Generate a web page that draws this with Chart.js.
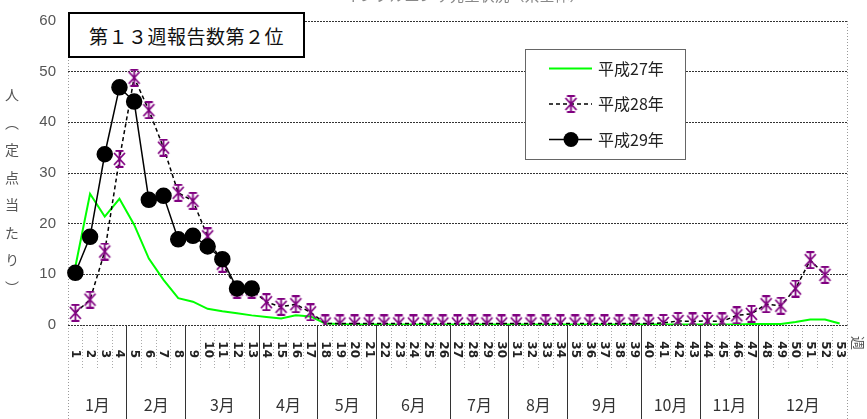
<!DOCTYPE html>
<html>
<head>
<meta charset="utf-8">
<script src="https://cdn.jsdelivr.net/npm/chart.js@4"></script>
<style>
  html, body { margin: 0; padding: 0; background: #fff; }
  #wrap { position: relative; width: 867px; height: 419px; overflow: hidden; font-family: "Noto Sans CJK JP", sans-serif; }
  #chart { position: absolute; left: 0; top: 0; }
  .note {
    position: absolute; left: 68px; top: 12px; width: 237px; height: 46px; box-sizing: border-box;
    border: 2px solid #000; background: #fff; color: #111; font-size: 19px;
    display: flex; align-items: center; justify-content: center; letter-spacing: 0.5px;
  }
  .ytitle {
    position: absolute; left: 4px; top: 88px; writing-mode: vertical-rl;
    font-size: 14px; letter-spacing: 13.5px; color: #555; line-height: 16px;
  }
  .xtitle { position: absolute; left: 852px; top: 333px; font-size: 14px; color: #555; transform: rotate(90deg); }
  .toptitle { position: absolute; left: 345px; top: -16px; font-size: 15px; color: #888; }
</style>
</head>
<body>
<div id="wrap">
  <canvas id="chart" width="867" height="419"></canvas>
  <div class="toptitle">インフルエンザ発生状況（県全体）</div>
  <div class="note">第１３週報告数第２位</div>
  <div class="ytitle">人（定点当たり）</div>
  <div class="xtitle">週</div>
</div>
<script>
var weeks = ['1','2','3','4','5','6','7','8','9','10','11','12','13','14','15','16','17','18','19','20',
  '21','22','23','24','25','26','27','28','29','30','31','32','33','34','35','36','37','38','39','40',
  '41','42','43','44','45','46','47','48','49','50','51','52','53'];

var months = ['1月','2月','3月','4月','5月','6月','7月','8月','9月','10月','11月','12月'];
var monthLastWeek = [4, 8, 13, 17, 21, 26, 30, 34, 39, 43, 47, 53];

var yTicks = [0, 10, 20, 30, 40, 50, 60];

var h27 = [11.5, 25.9, 21.4, 24.9, 19.8, 13.1, 8.9, 5.3, 4.6, 3.2, 2.7, 2.3, 1.9, 1.6, 1.3, 1.9, 1.7, 0.3, 0.2, 0.1,
  0.1, 0.1, 0.1, 0.1, 0.1, 0.1, 0.1, 0.1, 0.1, 0.1, 0.1, 0.1, 0.1, 0.1, 0.1, 0.1, 0.1, 0.1, 0.1, 0.1,
  0.1, 0.1, 0.1, 0.1, 0.1, 0.1, 0.2, 0.2, 0.2, 0.6, 1.1, 1.1, 0.3];

var h28 = [2.4, 5.0, 14.5, 32.8, 48.8, 42.4, 35.0, 26.1, 24.5, 17.5, 12.1, 7.0, 7.0, 4.5, 3.6, 4.1, 2.5, 0.3, 0.3, 0.3,
  0.3, 0.3, 0.3, 0.3, 0.3, 0.3, 0.3, 0.3, 0.3, 0.3, 0.3, 0.3, 0.3, 0.3, 0.3, 0.3, 0.3, 0.3, 0.3, 0.3,
  0.4, 0.8, 0.7, 0.8, 0.7, 1.9, 2.2, 4.1, 3.8, 7.2, 12.8, 9.9, null];

var h29 = [10.3, 17.4, 33.7, 46.9, 44.1, 24.7, 25.5, 16.9, 17.6, 15.5, 13.0, 7.2, 7.2];

// month boundaries (between weeks) and month centres, in week units
var monthBounds = [0.5].concat(monthLastWeek.map(function (w) { return w + 0.5; }));
var monthCentres = monthLastWeek.map(function (w, i) {
  var first = i === 0 ? 1 : monthLastWeek[i - 1] + 1;
  return (first + w) / 2;
});

function isMonthLine(i) {
  return monthLastWeek.indexOf(i) >= 0 && i !== 53;
}

// Excel style asterisk marker
var star = document.createElement('canvas');
star.width = 15; star.height = 18;
(function () {
  var c = star.getContext('2d');
  c.strokeStyle = '#800080';
  c.lineWidth = 1.8;
  c.beginPath();
  c.moveTo(7.5, 1); c.lineTo(7.5, 17);
  c.moveTo(2, 3); c.lineTo(13, 15);
  c.moveTo(13, 3); c.lineTo(2, 15);
  c.moveTo(3.5, 1); c.lineTo(11.5, 1);
  c.moveTo(3.5, 17); c.lineTo(11.5, 17);
  c.stroke();
})();

var boxLegend = {
  id: 'boxLegend',
  afterDraw: function (chart) {
    var ctx = chart.ctx;
    ctx.save();
    ctx.fillStyle = '#fff';
    ctx.strokeStyle = '#666';
    ctx.lineWidth = 1;
    ctx.fillRect(525.5, 49.5, 160, 110);
    ctx.strokeRect(525.5, 49.5, 160, 110);
    chart.data.datasets.forEach(function (ds, i) {
      var y = 68.5 + i * 35.5;
      ctx.beginPath();
      ctx.setLineDash(ds.borderDash || []);
      ctx.strokeStyle = ds.borderColor;
      ctx.lineWidth = ds.borderWidth;
      ctx.moveTo(549, y); ctx.lineTo(592, y);
      ctx.stroke();
      ctx.setLineDash([]);
      if (ds.pointStyle instanceof HTMLCanvasElement) {
        ctx.drawImage(ds.pointStyle, 571 - ds.pointStyle.width / 2, y - ds.pointStyle.height / 2);
      } else if (ds.pointRadius > 0) {
        ctx.beginPath();
        ctx.fillStyle = ds.pointBackgroundColor;
        ctx.arc(571, y, ds.pointRadius, 0, Math.PI * 2);
        ctx.fill();
      }
      ctx.fillStyle = '#222';
      ctx.font = '16px "Noto Sans CJK JP"';
      ctx.textBaseline = 'middle';
      ctx.fillText(ds.label, 598, y);
    });
    ctx.restore();
  }
};

var options = {
  type: 'line',
  data: {
    labels: weeks,
    datasets: [{
      label: '平成27年',
      data: h27,
      borderColor: '#00ff00',
      borderWidth: 2,
      pointRadius: 0,
      order: 2
    }, {
      label: '平成28年',
      data: h28,
      borderColor: '#000',
      borderWidth: 1.5,
      borderDash: [4, 3],
      pointStyle: star,
      pointRadius: 7,
      order: 1
    }, {
      label: '平成29年',
      data: h29,
      borderColor: '#000',
      borderWidth: 1.5,
      pointStyle: 'circle',
      pointRadius: 7.5,
      pointBackgroundColor: '#000',
      pointBorderColor: '#000',
      order: 0
    }]
  },
  options: {
    responsive: false,
    animation: false,
    layout: { padding: { left: 26, top: 12, right: 20, bottom: 0 } },
    scales: {
      x: {
        type: 'category',
        position: 'bottom',
        offset: true,
        grid: {
          offset: true,
          drawOnChartArea: true,
          color: function (c) { return (c.index === undefined || c.index === 0) ? '#999' : 'rgba(0,0,0,0)'; },
          tickLength: 45,
          tickColor: function (c) { return isMonthLine(c.index) ? '#333' : '#aaa'; },
          tickBorderDash: function (c) { return isMonthLine(c.index) ? [] : [1, 2]; }
        },
        border: { display: false, dash: [1, 2] },
        ticks: {
          autoSkip: false,
          minRotation: -90,
          maxRotation: -90,
          padding: -12,
          color: '#222',
          font: { family: 'DejaVu Sans', size: 12, weight: 'bold' }
        },
        afterFit: function (s) { s.height = 45; }
      },
      xm: {
        type: 'linear',
        position: 'bottom',
        min: 0.5,
        max: 53.5,
        afterBuildTicks: function (s) {
          s.ticks = monthBounds.concat(monthCentres).sort(function (a, b) { return a - b; })
            .map(function (v) { return { value: v }; });
        },
        grid: {
          drawOnChartArea: false,
          tickLength: 49,
          tickColor: function (c) {
            var v = c.tick ? c.tick.value : null;
            if (v === 0.5 || v === 53.5) return '#999';
            return monthBounds.indexOf(v) >= 0 ? '#333' : 'rgba(0,0,0,0)';
          },
          tickBorderDash: function (c) {
            var v = c.tick ? c.tick.value : null;
            return (v === 0.5 || v === 53.5) ? [1, 2] : [];
          }
        },
        border: { display: false },
        ticks: {
          autoSkip: false,
          maxRotation: 0,
          padding: -24,
          color: '#333',
          font: { family: 'Noto Sans CJK JP', size: 16 },
          callback: function (v) {
            var i = monthCentres.indexOf(v);
            return i >= 0 ? months[i] : '';
          }
        },
        afterFit: function (s) { s.height = 49; }
      },
      y: {
        min: 0,
        max: 60,
        afterBuildTicks: function (s) { s.ticks = yTicks.map(function (v) { return { value: v }; }); },
        grid: { color: '#333', drawTicks: false },
        border: { display: false, dash: [2, 1] },
        ticks: { padding: 12, color: '#555', font: { family: 'Liberation Sans', size: 15 } },
        afterFit: function (s) { s.width = 42; }
      }
    },
    plugins: {
      legend: { display: false },
      tooltip: { enabled: false }
    }
  },
  plugins: [boxLegend]
};

var ctx = document.getElementById('chart').getContext('2d');
new Chart(ctx, options);
</script>
</body>
</html>
